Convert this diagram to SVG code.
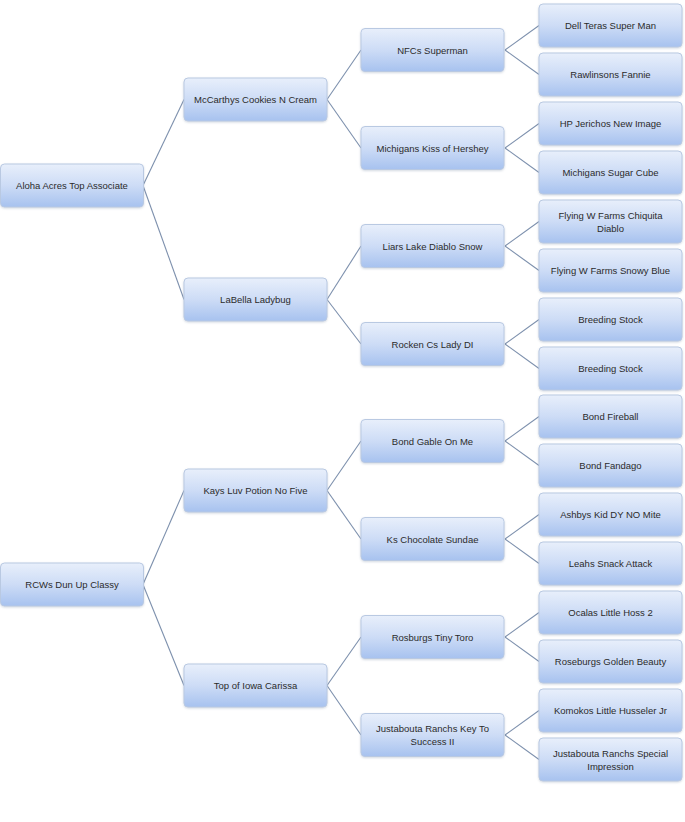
<svg xmlns="http://www.w3.org/2000/svg" width="685" height="822" viewBox="0 0 685 822">
<defs>
<linearGradient id="g" x1="0" y1="0" x2="0" y2="1">
<stop offset="0" stop-color="#e8effb"/>
<stop offset="0.5" stop-color="#cddcf6"/>
<stop offset="1" stop-color="#a7c2ef"/>
</linearGradient>
<filter id="sh" x="-10%" y="-10%" width="120%" height="130%">
<feDropShadow dx="0" dy="1" stdDeviation="0.8" flood-color="#8090a8" flood-opacity="0.35"/>
</filter>
</defs>
<style>
rect.b{fill:url(#g);stroke:#b9c9e2;stroke-width:1;filter:url(#sh)}
text{font-family:"Liberation Sans",Arial,sans-serif;font-size:9.5px;fill:#2b2b2b;text-anchor:middle}
.c line{stroke:#7d90ad;stroke-width:1.1}
</style>
<rect width="685" height="822" fill="#fff"/>
<g class="c" id="connectors">
<line x1="143" y1="185.5" x2="184" y2="99.5"/>
<line x1="143" y1="185.5" x2="184" y2="299.5"/>
<line x1="143" y1="584.5" x2="184" y2="490.5"/>
<line x1="143" y1="584.5" x2="184" y2="685.5"/>
<line x1="327" y1="99.5" x2="361" y2="50"/>
<line x1="327" y1="99.5" x2="361" y2="148"/>
<line x1="327" y1="299.5" x2="361" y2="246"/>
<line x1="327" y1="299.5" x2="361" y2="344"/>
<line x1="327" y1="490.5" x2="361" y2="441"/>
<line x1="327" y1="490.5" x2="361" y2="539"/>
<line x1="327" y1="685.5" x2="361" y2="637"/>
<line x1="327" y1="685.5" x2="361" y2="735"/>
<line x1="505" y1="50" x2="539" y2="25.5"/>
<line x1="505" y1="50" x2="539" y2="74.5"/>
<line x1="505" y1="148" x2="539" y2="123.5"/>
<line x1="505" y1="148" x2="539" y2="172.5"/>
<line x1="505" y1="246" x2="539" y2="221.5"/>
<line x1="505" y1="246" x2="539" y2="270.5"/>
<line x1="505" y1="344" x2="539" y2="319.5"/>
<line x1="505" y1="344" x2="539" y2="368.5"/>
<line x1="505" y1="441" x2="539" y2="416.5"/>
<line x1="505" y1="441" x2="539" y2="465.5"/>
<line x1="505" y1="539" x2="539" y2="514.5"/>
<line x1="505" y1="539" x2="539" y2="563.5"/>
<line x1="505" y1="637" x2="539" y2="612.5"/>
<line x1="505" y1="637" x2="539" y2="661.5"/>
<line x1="505" y1="735" x2="539" y2="710.5"/>
<line x1="505" y1="735" x2="539" y2="759.5"/>
</g>
<g id="n-aloha"><rect class="b" x="0.5" y="164" width="143" height="43" rx="4"/><text x="72" y="189">Aloha Acres Top Associate</text></g>
<g id="n-rcws"><rect class="b" x="0.5" y="563" width="143" height="43" rx="4"/><text x="72" y="588">RCWs Dun Up Classy</text></g>
<g id="n-mccarthys"><rect class="b" x="184" y="78" width="143" height="43" rx="4"/><text x="255.5" y="103">McCarthys Cookies N Cream</text></g>
<g id="n-labella"><rect class="b" x="184" y="278" width="143" height="43" rx="4"/><text x="255.5" y="303">LaBella Ladybug</text></g>
<g id="n-kays"><rect class="b" x="184" y="469" width="143" height="43" rx="4"/><text x="255.5" y="494">Kays Luv Potion No Five</text></g>
<g id="n-topiowa"><rect class="b" x="184" y="664" width="143" height="43" rx="4"/><text x="255.5" y="689">Top of Iowa Carissa</text></g>
<g id="n-nfcs"><rect class="b" x="361" y="28.5" width="143" height="43" rx="4"/><text x="432.5" y="53.5">NFCs Superman</text></g>
<g id="n-michkiss"><rect class="b" x="361" y="126.5" width="143" height="43" rx="4"/><text x="432.5" y="151.5">Michigans Kiss of Hershey</text></g>
<g id="n-liars"><rect class="b" x="361" y="224.5" width="143" height="43" rx="4"/><text x="432.5" y="249.5">Liars Lake Diablo Snow</text></g>
<g id="n-rocken"><rect class="b" x="361" y="322.5" width="143" height="43" rx="4"/><text x="432.5" y="347.5">Rocken Cs Lady DI</text></g>
<g id="n-bondgable"><rect class="b" x="361" y="419.5" width="143" height="43" rx="4"/><text x="432.5" y="444.5">Bond Gable On Me</text></g>
<g id="n-kschoc"><rect class="b" x="361" y="517.5" width="143" height="43" rx="4"/><text x="432.5" y="542.5">Ks Chocolate Sundae</text></g>
<g id="n-rosburgs"><rect class="b" x="361" y="615.5" width="143" height="43" rx="4"/><text x="432.5" y="640.5">Rosburgs Tiny Toro</text></g>
<g id="n-justkey"><rect class="b" x="361" y="713.5" width="143" height="43" rx="4"/><text x="432.5" y="732">Justabouta Ranchs Key To</text><text x="432.5" y="745">Success II</text></g>
<g id="n-dell"><rect class="b" x="539" y="4" width="143" height="43" rx="4"/><text x="610.5" y="29">Dell Teras Super Man</text></g>
<g id="n-rawlinsons"><rect class="b" x="539" y="53" width="143" height="43" rx="4"/><text x="610.5" y="78">Rawlinsons Fannie</text></g>
<g id="n-hp"><rect class="b" x="539" y="102" width="143" height="43" rx="4"/><text x="610.5" y="127">HP Jerichos New Image</text></g>
<g id="n-michsugar"><rect class="b" x="539" y="151" width="143" height="43" rx="4"/><text x="610.5" y="176">Michigans Sugar Cube</text></g>
<g id="n-chiquita"><rect class="b" x="539" y="200" width="143" height="43" rx="4"/><text x="610.5" y="218.5">Flying W Farms Chiquita</text><text x="610.5" y="231.5">Diablo</text></g>
<g id="n-snowy"><rect class="b" x="539" y="249" width="143" height="43" rx="4"/><text x="610.5" y="274">Flying W Farms Snowy Blue</text></g>
<g id="n-breeding1"><rect class="b" x="539" y="298" width="143" height="43" rx="4"/><text x="610.5" y="323">Breeding Stock</text></g>
<g id="n-breeding2"><rect class="b" x="539" y="347" width="143" height="43" rx="4"/><text x="610.5" y="372">Breeding Stock</text></g>
<g id="n-fireball"><rect class="b" x="539" y="395" width="143" height="43" rx="4"/><text x="610.5" y="420">Bond Fireball</text></g>
<g id="n-fandago"><rect class="b" x="539" y="444" width="143" height="43" rx="4"/><text x="610.5" y="469">Bond Fandago</text></g>
<g id="n-ashbys"><rect class="b" x="539" y="493" width="143" height="43" rx="4"/><text x="610.5" y="518">Ashbys Kid DY NO Mite</text></g>
<g id="n-leahs"><rect class="b" x="539" y="542" width="143" height="43" rx="4"/><text x="610.5" y="567">Leahs Snack Attack</text></g>
<g id="n-ocalas"><rect class="b" x="539" y="591" width="143" height="43" rx="4"/><text x="610.5" y="616">Ocalas Little Hoss 2</text></g>
<g id="n-roseburgs"><rect class="b" x="539" y="640" width="143" height="43" rx="4"/><text x="610.5" y="665">Roseburgs Golden Beauty</text></g>
<g id="n-komokos"><rect class="b" x="539" y="689" width="143" height="43" rx="4"/><text x="610.5" y="714">Komokos Little Husseler Jr</text></g>
<g id="n-justspecial"><rect class="b" x="539" y="738" width="143" height="43" rx="4"/><text x="610.5" y="756.5">Justabouta Ranchs Special</text><text x="610.5" y="769.5">Impression</text></g>
</svg>
